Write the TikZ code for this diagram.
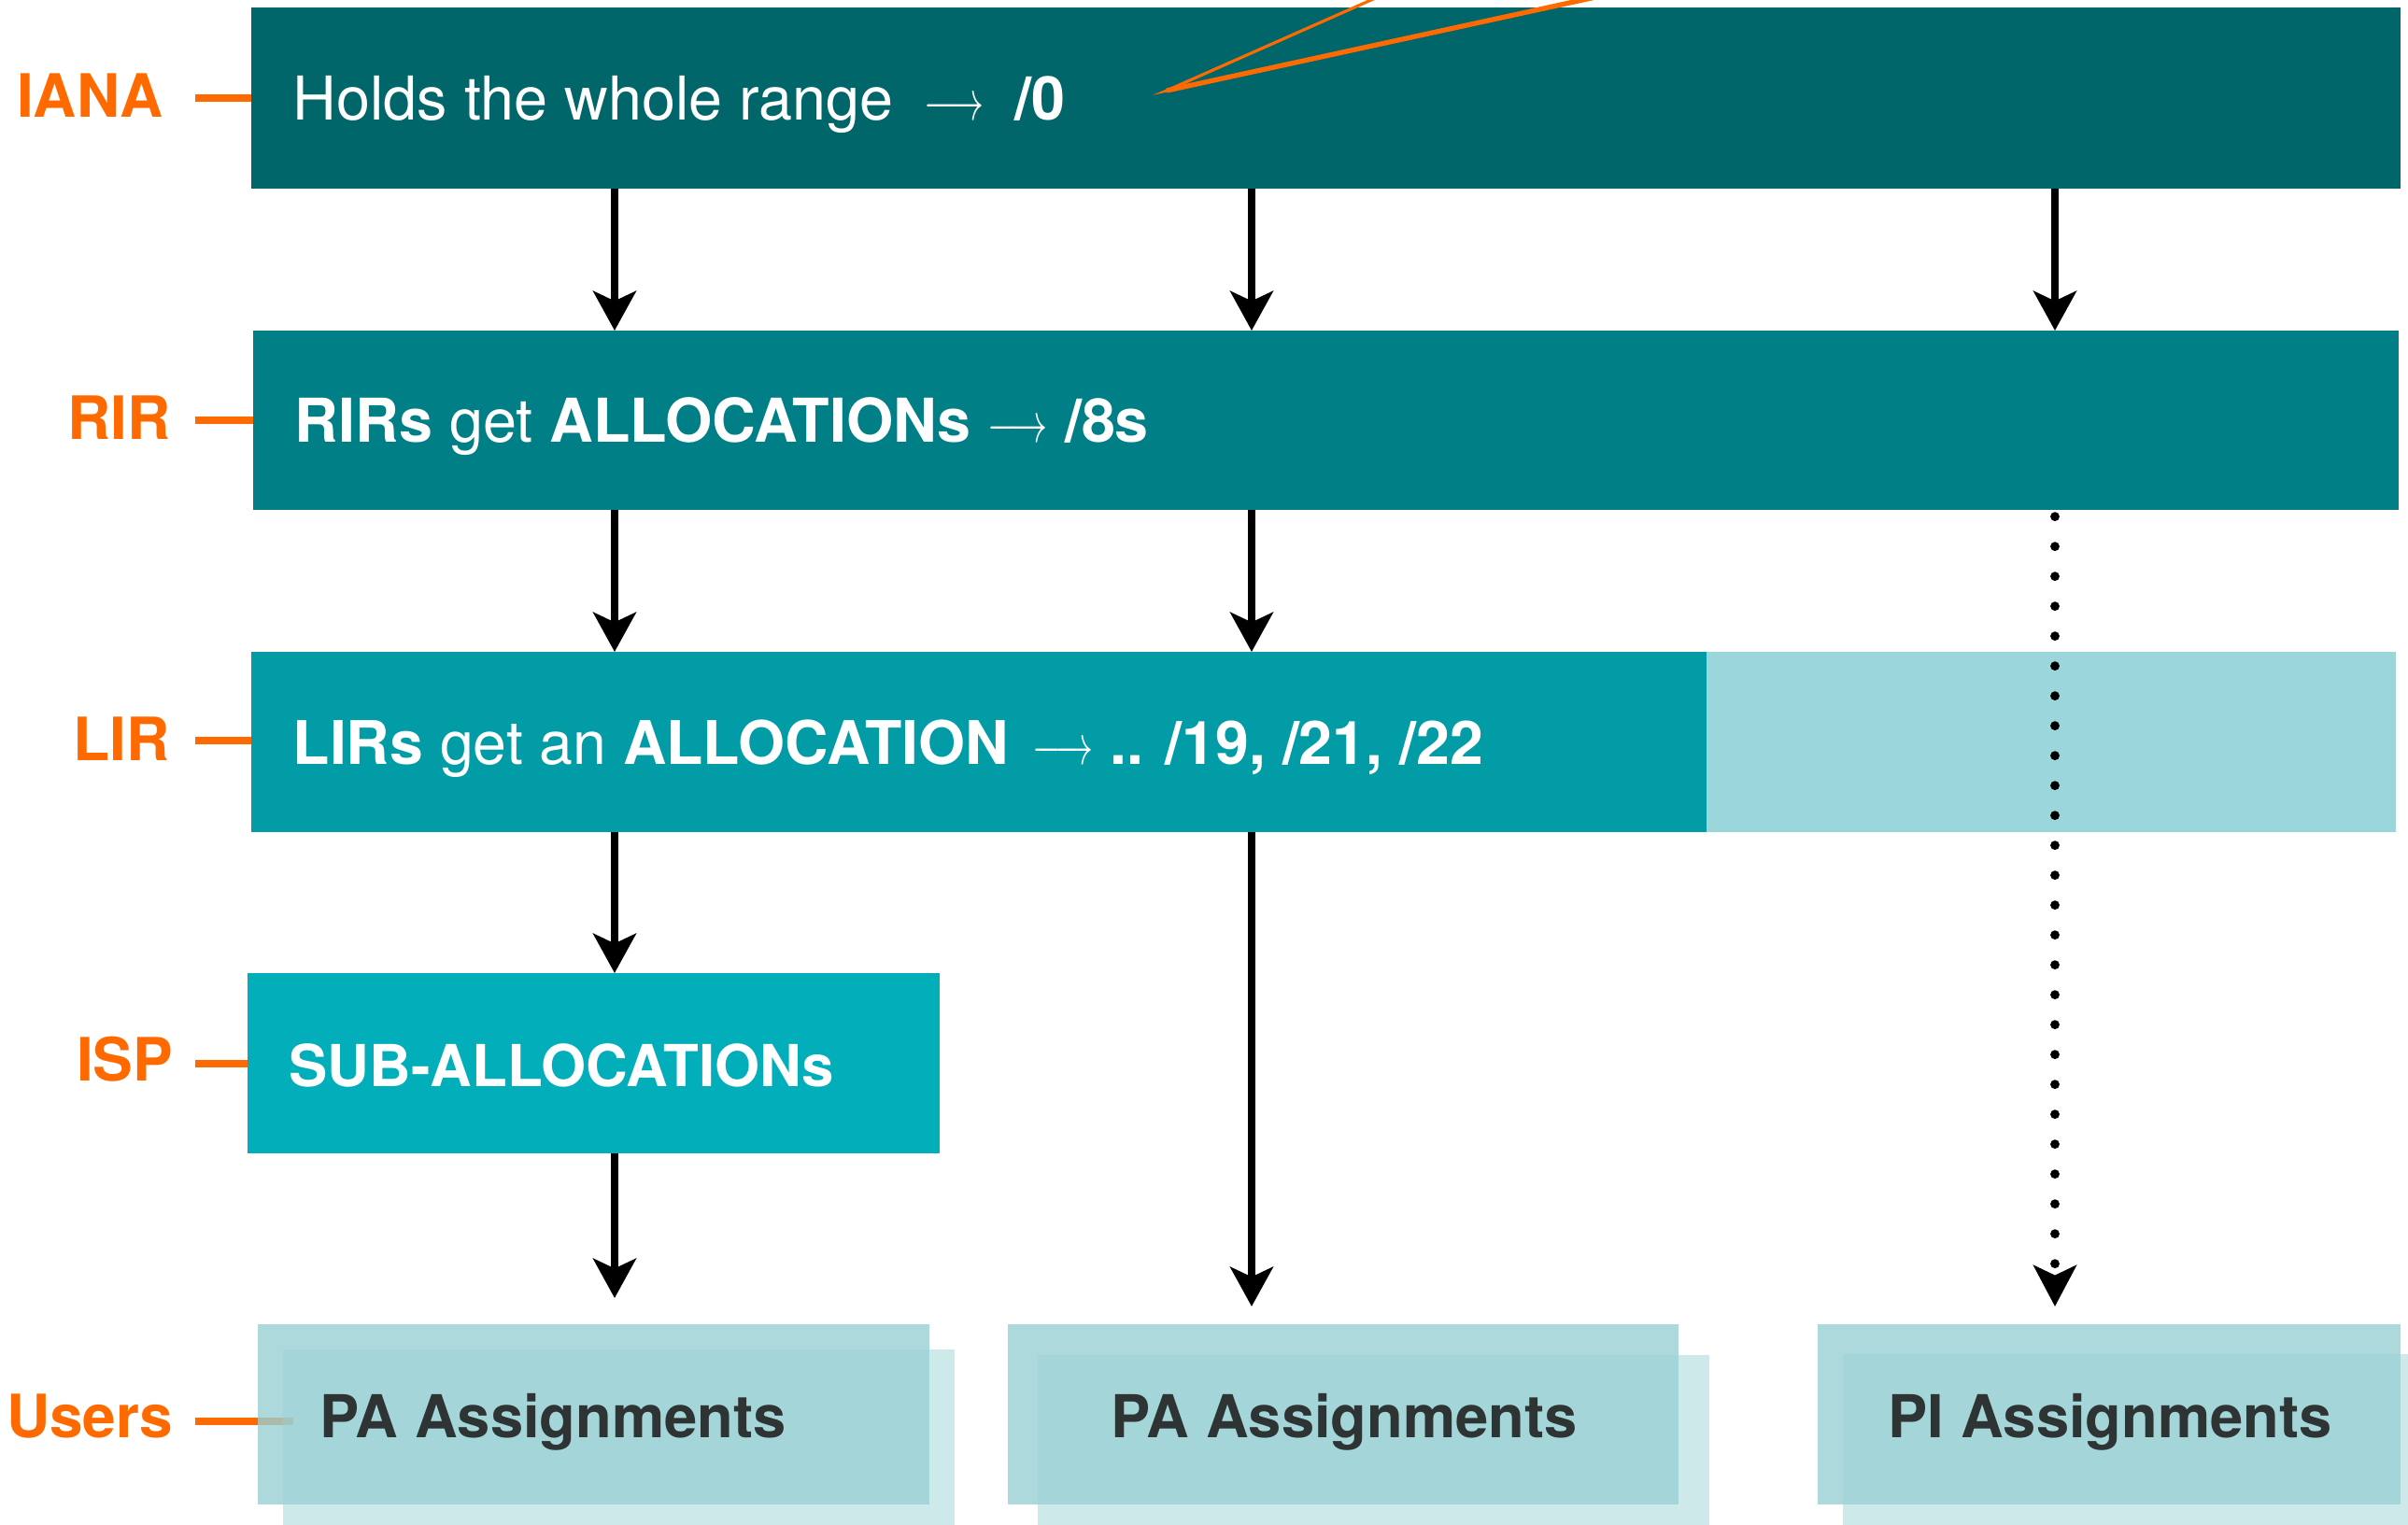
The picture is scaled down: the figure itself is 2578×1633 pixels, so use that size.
\documentclass[tikz,border=0pt]{standalone}
\usepackage{fontspec}
\setmainfont{TeX Gyre Heros}
\usetikzlibrary{arrows.meta}
\definecolor{ianac}{HTML}{01666A}
\definecolor{rirc}{HTML}{017F87}
\definecolor{lirc}{HTML}{029CA7}
\definecolor{lirlight}{HTML}{9BD7DA}
\definecolor{ispc}{HTML}{02AEB9}
\definecolor{userc}{HTML}{98D0D4}
\definecolor{tagc}{HTML}{FF6A00}
\definecolor{darktxt}{HTML}{2E3333}
\newcommand{\toarr}{\scalebox{0.66}[1]{$\longrightarrow$}}
\begin{document}
\begin{tikzpicture}[x=0.01cm,y=-0.01cm,
  box/.style={anchor=north west,inner sep=0pt,outer sep=0pt,minimum height=1.93cm},
  txt/.style={anchor=base west,inner sep=0pt,text=white,font=\fontsize{18.4pt}{22pt}\selectfont},
  tag/.style={anchor=base east,inner sep=0pt,text=tagc,font=\fontsize{18.2pt}{22pt}\selectfont\bfseries},
  utxt/.style={anchor=base west,inner sep=0pt,text=darktxt,font=\fontsize{18pt}{22pt}\selectfont\bfseries},
  tick/.style={draw=tagc,line width=2.5pt},
  arr/.style={line width=2.5pt,-{Stealth[length=12pt,width=13pt,inset=3pt]}},
  dots/.style={line width=2.8pt,line cap=round,dash pattern=on 0pt off 9.1pt,dash phase=7.1pt,-{Stealth[length=12.5pt,width=13pt,inset=3pt]}},
  uback/.style={box,fill=userc,fill opacity=0.48},
  ufront/.style={box,fill=userc,fill opacity=0.8}]
\useasboundingbox (0,0) rectangle (2578,1633);

\coordinate (c1) at (658,0);
\coordinate (c2) at (1340,0);
\coordinate (c3) at (2200,0);

\coordinate (t1) at (209,105);
\coordinate (t2) at (209,450);
\coordinate (t3) at (209,793);
\coordinate (t4) at (209,1139);
\coordinate (t5) at (209,1522);
\coordinate (t5e) at (314,1522);

\node[box,fill=ianac,minimum width=23.00cm,minimum height=1.94cm] (iana) at (269,8) {};
\node[box,fill=rirc,minimum width=22.96cm,minimum height=1.92cm] (rir) at (271,354) {};
\node[box,fill=lirc,minimum width=15.58cm] (lir) at (269,698) {};
\node[box,fill=lirlight,minimum width=7.38cm] (lirb) at (1827,698) {};
\node[box,fill=ispc,minimum width=7.41cm] (isp) at (265,1042) {};

\draw[tick] (t1) -- (t1 -| iana.west);
\draw[tick] (t2) -- (t2 -| rir.west);
\draw[tick] (t3) -- (t3 -| lir.west);
\draw[tick] (t4) -- (t4 -| isp.west);
\draw[tick] (t5) -- (t5e);

\node[uback,minimum width=7.19cm] (pa1b) at (303,1445) {};
\node[ufront,minimum width=7.19cm] (pa1) at (276,1418) {};
\node[uback,minimum width=7.19cm] (pa2b) at (1111,1451) {};
\node[ufront,minimum width=7.18cm] (pa2) at (1079,1418) {};
\node[uback,minimum width=6.30cm] (pib) at (1973,1450) {};
\node[ufront,minimum width=6.24cm] (pi) at (1946,1418) {};

\node[tag] (ianatag) at (175,125) {IANA};
\node[tag] (rirtag) at (183,470) {RIR};
\node[tag] (lirtag) at (182,814) {LIR};
\node[tag] (isptag) at (186,1157) {ISP};
\node[tag] (usertag) at (186,1539) {Users};

\node[txt] (ianatxt) at (313,128) {Holds the whole range\hspace{0.5em}\toarr\hspace{0.5em}\textbf{/0}};
\node[txt] (rirtxt) at (315,473) {\textbf{RIRs} get \textbf{ALLOCATIONs} \toarr{} \textbf{/8s}};
\node[txt,font=\fontsize{18.3pt}{22pt}\selectfont] (lirtxt) at (313,818) {\textbf{LIRs} get an \textbf{ALLOCATION}\hspace{0.4em}\toarr{} \textbf{.. /19, /21, /22}};
\node[txt,font=\fontsize{17.6pt}{22pt}\selectfont\bfseries] (isptxt) at (309,1163) {SUB-ALLOCATIONs};
\node[utxt] (pa1txt) at (342,1539) {PA Assignments};
\node[utxt] (pa2txt) at (1189,1539) {PA Assignments};
\node[utxt] (pitxt) at (2021,1539) {PI Assignments};

\draw[arr] (iana.south -| c1) -- (rir.north -| c1);
\draw[arr] (iana.south -| c2) -- (rir.north -| c2);
\draw[arr] (iana.south -| c3) -- (rir.north -| c3);
\draw[arr] (rir.south -| c1) -- (lir.north -| c1);
\draw[arr] (rir.south -| c2) -- (lir.north -| c2);
\draw[arr] (lir.south -| c1) -- (isp.north -| c1);
\draw[arr,shorten >=0.28cm] (isp.south -| c1) -- (pa1.north -| c1);
\draw[arr,shorten >=0.19cm] (lir.south -| c2) -- (pa2.north -| c2);
\draw[dots,shorten >=0.19cm] (rir.south -| c3) -- (pi.north -| c3);

\coordinate (vtip) at (1249,97);
\begin{scope}
\clip (0,0) rectangle (2578,1633);
\draw[tagc,line width=0.9pt,line join=miter] (1513,-20) -- (vtip) -- (1786,-20);
\draw[tagc,line width=1.5pt] (vtip) -- (1786,-20);
\end{scope}
\end{tikzpicture}
\end{document}
